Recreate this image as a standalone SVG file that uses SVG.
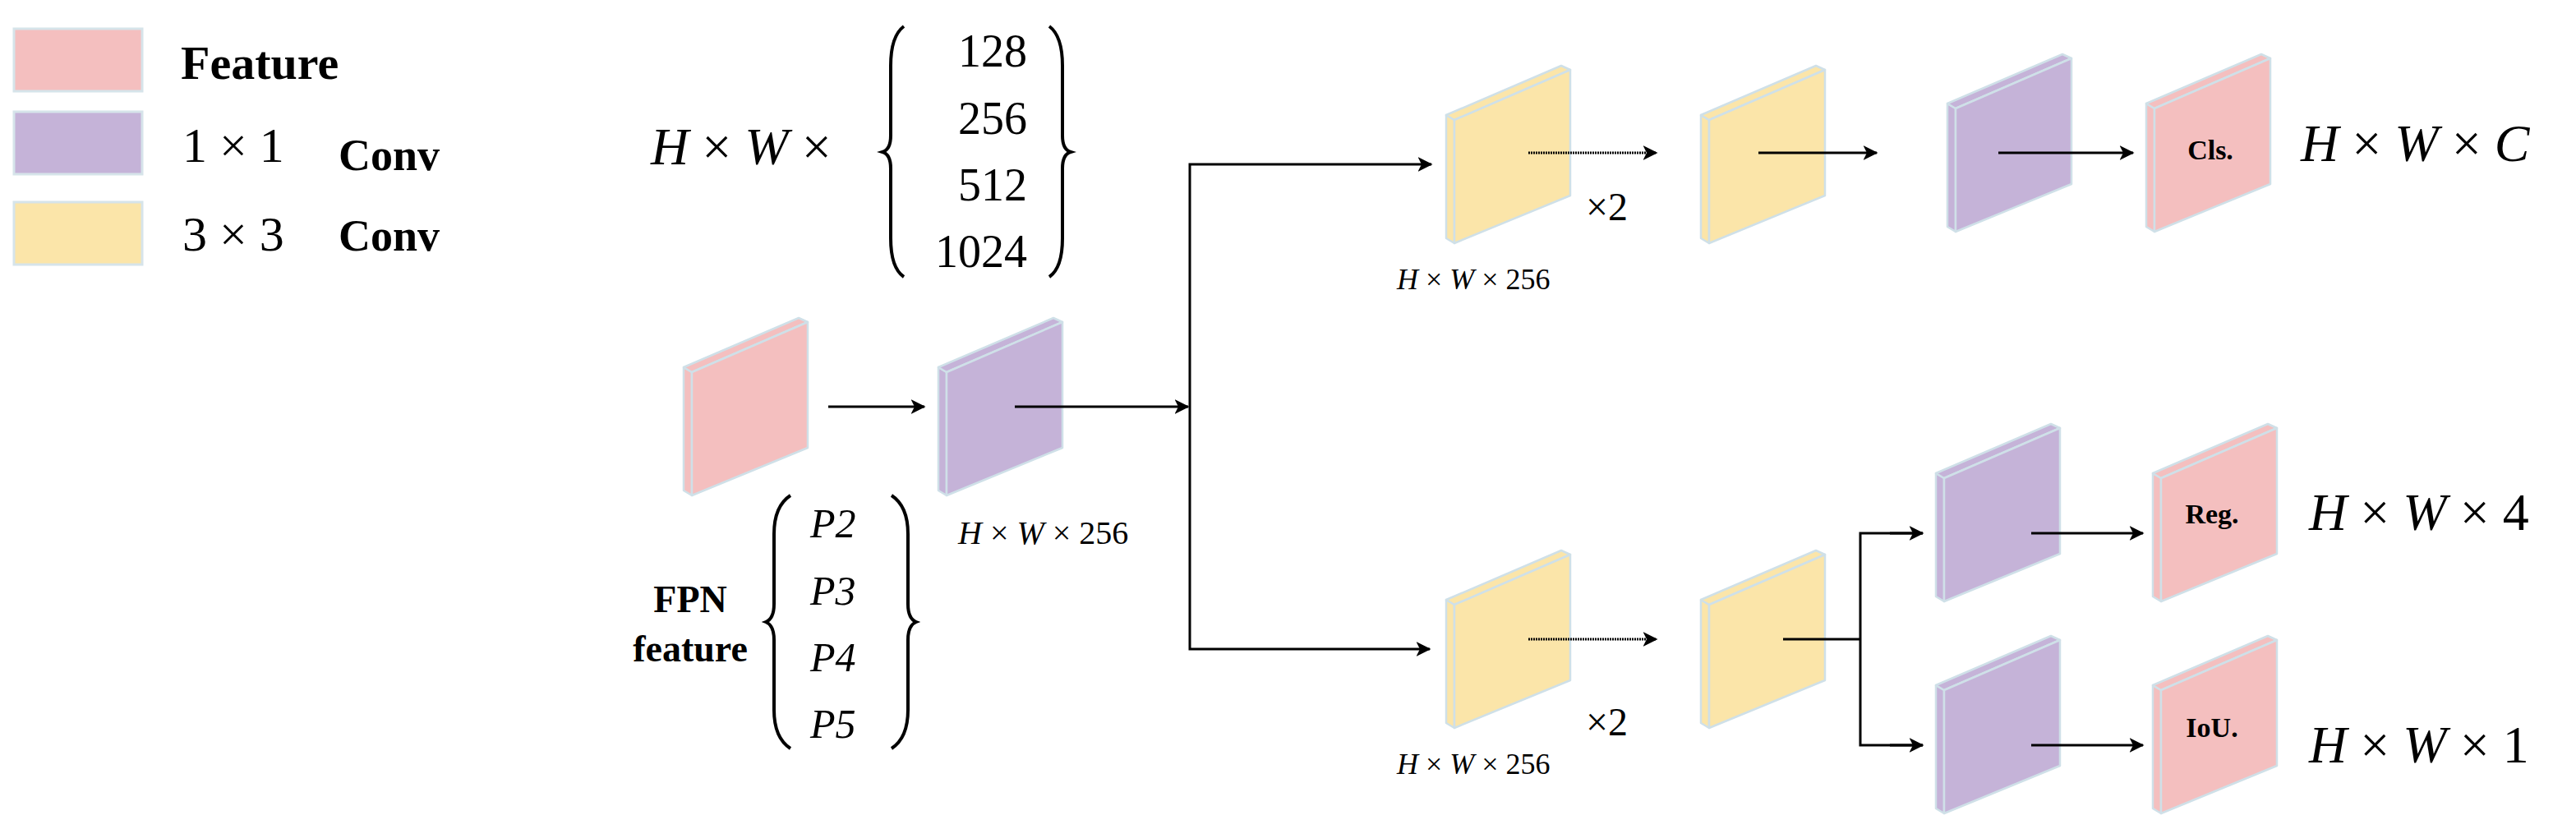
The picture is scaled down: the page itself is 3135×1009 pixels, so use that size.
<svg xmlns="http://www.w3.org/2000/svg" xmlns:xlink="http://www.w3.org/1999/xlink" width="3135" height="1009" viewBox="0 0 3135 1009">
<style>
.t{font-family:"Liberation Serif","DejaVu Serif",serif;fill:#000}
.b{font-weight:bold}
.i{font-style:italic}
.blk polygon{stroke:#cfe0e8;stroke-width:2.5;stroke-linejoin:round}
.pink{fill:#f4bfbf}.purple{fill:#c5b3d8}.yellow{fill:#fbe5a9}
.c{stroke:#000;stroke-width:3;fill:none}
.br{stroke:#000;stroke-width:4;fill:none}
.leg{stroke:#d6e4ea;stroke-width:3}
</style>
<defs>
<marker id="ah" viewBox="0 0 12 12" refX="11" refY="6" markerWidth="6" markerHeight="6" orient="auto" markerUnits="strokeWidth"><path d="M0,0 L12,6 L0,12 L3,6 z" fill="#000"/></marker>
<g id="blk" class="blk">
<polygon points="0,60 10,66 10,216 0,210"/>
<polygon points="0,60 140,0 151,5 10,66"/>
<polygon points="10,66 151,5 151,158 10,216"/>
</g>
</defs>
<g id="legend">
<rect class="pink leg" x="17" y="35" width="156" height="76"/>
<rect class="purple leg" x="17" y="136" width="156" height="76"/>
<rect class="yellow leg" x="17" y="246" width="156" height="76"/>
<text class="t b" x="220" y="96" font-size="58">Feature</text>
<text class="t" x="222" y="197" font-size="60">1 × 1</text>
<text class="t b" x="412" y="207" font-size="54">Conv</text>
<text class="t" x="222" y="305" font-size="60">3 × 3</text>
<text class="t b" x="412" y="305" font-size="54">Conv</text>
</g>
<g id="channels">
<text class="t" x="792" y="200" font-size="64"><tspan class="i">H</tspan> × <tspan class="i">W</tspan> ×</text>
<path class="br" d="M1100,32 Q1084,44 1084,80 L1084,165 Q1084,182 1074,185 Q1084,188 1084,205 L1084,290 Q1084,326 1100,337"/>
<path class="br" d="M1277,32 Q1293,44 1293,80 L1293,165 Q1293,182 1303,185 Q1293,188 1293,205 L1293,290 Q1293,326 1277,337"/>
<g class="t" font-size="56" text-anchor="end">
<text x="1250" y="81">128</text><text x="1250" y="163">256</text><text x="1250" y="244">512</text><text x="1250" y="325">1024</text>
</g>
</g>
<g id="fpn">
<text class="t b" x="840" y="745" font-size="46" text-anchor="middle">FPN</text>
<text class="t b" x="840" y="805" font-size="46" text-anchor="middle">feature</text>
<path class="br" d="M962,603 Q942,616 942,650 L942,735 Q942,753 932,757 Q942,761 942,779 L942,864 Q942,898 962,911"/>
<path class="br" d="M1085,603 Q1105,616 1105,650 L1105,735 Q1105,753 1115,757 Q1105,761 1105,779 L1105,864 Q1105,898 1085,911"/>
<g class="t i" font-size="50"><text x="986" y="654">P2</text><text x="986" y="736">P3</text><text x="986" y="817">P4</text><text x="986" y="898">P5</text></g>
</g>
<g id="feature"><use xlink:href="#blk" class="pink" x="832" y="387"/></g>
<g id="conv1x1"><use xlink:href="#blk" class="purple" x="1142" y="387"/>
<text class="t" x="1166" y="662" font-size="40"><tspan class="i">H</tspan> × <tspan class="i">W</tspan> × 256</text></g>
<g id="cls_conv1"><use xlink:href="#blk" class="yellow" x="1760" y="80"/>
<text class="t" x="1930" y="268" font-size="48">×2</text>
<text class="t" x="1700" y="352" font-size="36"><tspan class="i">H</tspan> × <tspan class="i">W</tspan> × 256</text></g>
<g id="cls_conv2"><use xlink:href="#blk" class="yellow" x="2070" y="80"/></g>
<g id="cls_1x1"><use xlink:href="#blk" class="purple" x="2370" y="66"/></g>
<g id="cls_out"><use xlink:href="#blk" class="pink" x="2612" y="66"/>
<text class="t b" x="2690" y="194" font-size="34" text-anchor="middle">Cls.</text>
<text class="t" x="2800" y="196" font-size="64"><tspan class="i">H</tspan> × <tspan class="i">W</tspan> × <tspan class="i">C</tspan></text></g>
<g id="reg_conv1"><use xlink:href="#blk" class="yellow" x="1760" y="670"/>
<text class="t" x="1930" y="895" font-size="48">×2</text>
<text class="t" x="1700" y="942" font-size="36"><tspan class="i">H</tspan> × <tspan class="i">W</tspan> × 256</text></g>
<g id="reg_conv2"><use xlink:href="#blk" class="yellow" x="2070" y="670"/></g>
<g id="reg_1x1"><use xlink:href="#blk" class="purple" x="2356" y="516"/></g>
<g id="iou_1x1"><use xlink:href="#blk" class="purple" x="2356" y="774"/></g>
<g id="reg_out"><use xlink:href="#blk" class="pink" x="2620" y="516"/>
<text class="t b" x="2692" y="637" font-size="34" text-anchor="middle">Reg.</text>
<text class="t" x="2810" y="645" font-size="64"><tspan class="i">H</tspan> × <tspan class="i">W</tspan> × 4</text></g>
<g id="iou_out"><use xlink:href="#blk" class="pink" x="2620" y="774"/>
<text class="t b" x="2692" y="897" font-size="34" text-anchor="middle">IoU.</text>
<text class="t" x="2810" y="928" font-size="64"><tspan class="i">H</tspan> × <tspan class="i">W</tspan> × 1</text></g>
<g id="connectors">
<line class="c" x1="1008" y1="495" x2="1125" y2="495" marker-end="url(#ah)"/>
<line class="c" x1="1235" y1="495" x2="1446" y2="495" marker-end="url(#ah)"/>
<polyline class="c" points="1740,200 1448,200 1448,790 1740,790" marker-end="url(#ah)"/>
<line class="c" x1="1740" y1="200" x2="1742" y2="200" marker-end="url(#ah)"/>
<line class="c" x1="1860" y1="186" x2="2016" y2="186" stroke-dasharray="2,1" marker-end="url(#ah)"/>
<line class="c" x1="2140" y1="186" x2="2284" y2="186" marker-end="url(#ah)"/>
<line class="c" x1="2432" y1="186" x2="2596" y2="186" marker-end="url(#ah)"/>
<line class="c" x1="1860" y1="778" x2="2016" y2="778" stroke-dasharray="2,1" marker-end="url(#ah)"/>
<line class="c" x1="2170" y1="778" x2="2264" y2="778"/>
<polyline class="c" points="2340,649 2264,649 2264,907 2340,907"/>
<line class="c" x1="2300" y1="649" x2="2340" y2="649" marker-end="url(#ah)"/>
<line class="c" x1="2300" y1="907" x2="2340" y2="907" marker-end="url(#ah)"/>
<line class="c" x1="2472" y1="649" x2="2608" y2="649" marker-end="url(#ah)"/>
<line class="c" x1="2472" y1="907" x2="2608" y2="907" marker-end="url(#ah)"/>
</g>
</svg>
